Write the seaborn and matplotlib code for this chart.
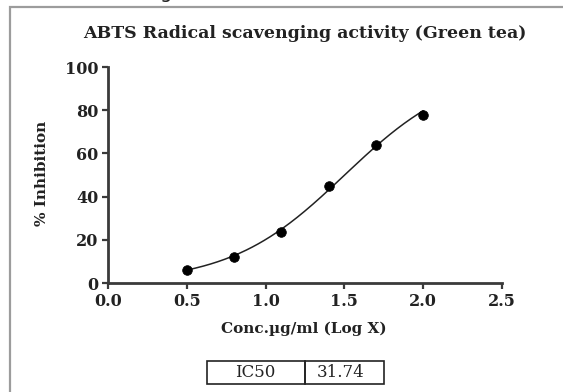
import numpy as np
import pandas as pd
import matplotlib
matplotlib.use("Agg")
import matplotlib.pyplot as plt
import seaborn as sns
from matplotlib.patches import Rectangle

# Measured points: log10 concentration vs % inhibition
log_conc = [0.5, 0.8, 1.1, 1.4, 1.7, 2.0]
inhibition = [6.0, 12.0, 23.5, 45.0, 64.0, 78.0]
ic50 = 31.74

x_ticks = [0.0, 0.5, 1.0, 1.5, 2.0, 2.5]
y_ticks = [0, 20, 40, 60, 80, 100]

title = "ABTS Radical scavenging activity (Green tea)"
x_label = "Conc.µg/ml (Log X)"
y_label = "% Inhibition"

df = pd.DataFrame({"logx": log_conc, "inh": inhibition})

# Sigmoidal dose-response (bottom 0, top 100) through log IC50; Hill slope by least squares
log_ic50 = np.log10(ic50)


def response(x, hill):
    return 100.0 / (1.0 + 10 ** ((log_ic50 - x) * hill))


hills = np.linspace(0.3, 3.0, 2701)
sse = [np.sum((response(df["logx"].values, h) - df["inh"].values) ** 2) for h in hills]
hill = hills[int(np.argmin(sse))]
xs = np.linspace(min(log_conc), max(log_conc), 200)
fit = pd.DataFrame({"logx": xs, "inh": response(xs, hill)})

sns.set_theme(style="white")
plt.rcParams["font.family"] = ["DejaVu Serif"]

W, H = 563, 392
fig = plt.figure(figsize=(W / 100, H / 100), dpi=100)
ax = fig.add_axes([108 / W, 1 - 283 / H, (502 - 108) / W, (283 - 67) / H])

ink = "#222222"
axis_col = "#3a3a3a"

sns.lineplot(data=fit, x="logx", y="inh", ax=ax, color=ink, linewidth=1.1)
sns.scatterplot(data=df, x="logx", y="inh", ax=ax, color="black", s=48,
                edgecolor="black", zorder=5, clip_on=False)

ax.set_xlim(0, 2.5)
ax.set_ylim(0, 100)
ax.set_xticks(x_ticks)
ax.set_xticklabels([f"{t:.1f}" for t in x_ticks])
ax.set_yticks(y_ticks)
ax.set_yticklabels([str(t) for t in y_ticks])
for s in ["top", "right"]:
    ax.spines[s].set_visible(False)
for s in ["left", "bottom"]:
    ax.spines[s].set_visible(True)
    ax.spines[s].set_color(axis_col)
    ax.spines[s].set_linewidth(2.0)
ax.tick_params(axis="both", which="major", direction="out", length=4.5, width=1.6,
               color=axis_col, labelsize=11.5, pad=2.5, left=True, bottom=True)
for lab in ax.get_xticklabels() + ax.get_yticklabels():
    lab.set_fontweight("bold")
    lab.set_color(ink)
ax.set_xlabel("")
ax.set_ylabel("")

fig.text(305 / W, 1 - 34 / H, title, ha="center", va="center",
         fontsize=12.5, fontweight="bold", color=ink)
fig.text(304 / W, 1 - 329 / H, x_label, ha="center", va="center",
         fontsize=11, fontweight="bold", color=ink)
fig.text(42 / W, 1 - 173 / H, y_label, ha="center", va="center", rotation=90,
         fontsize=11, fontweight="bold", color=ink)

# IC50 table
tb_y0, tb_y1 = 1 - 384 / H, 1 - 361 / H
for x0, x1 in [(207, 305), (305, 384)]:
    fig.add_artist(Rectangle((x0 / W, tb_y0), (x1 - x0) / W, tb_y1 - tb_y0,
                             transform=fig.transFigure, fill=False,
                             edgecolor=ink, linewidth=1.2))
fig.text(255 / W, (tb_y0 + tb_y1) / 2, "IC50", ha="center", va="center",
         fontsize=12, color=ink)
fig.text(341 / W, (tb_y0 + tb_y1) / 2, f"{ic50:.2f}", ha="center", va="center",
         fontsize=12, color=ink)

# Outer frame
fig.add_artist(Rectangle((10 / W, -0.05), 1.1, 1 - 7 / H + 0.05,
                         transform=fig.transFigure, fill=False,
                         edgecolor="#9c9c9c", linewidth=1.6))

# Tail of a letter from the line above the frame
fig.text(160 / W, 1 + 1.5 / H, "g", ha="left", va="baseline",
         fontsize=14, color=ink, family="DejaVu Sans")

fig.savefig("out.png", dpi=100, facecolor="white")
